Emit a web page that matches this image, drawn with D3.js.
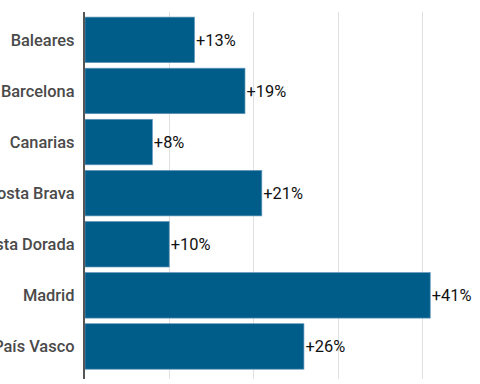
<!DOCTYPE html>
<html>
<head>
<meta charset="utf-8">
<script src="https://cdn.jsdelivr.net/npm/d3@7"></script>
<style>
html,body{margin:0;padding:0;background:#fff;overflow:hidden;}
svg{display:block;}
</style>
</head>
<body>
<svg id="chart" width="480" height="384"></svg>
<script>
const categories = ["Baleares","Barcelona","Canarias","Costa Brava","Costa Dorada","Madrid","País Vasco"];
const values = [13,19,8,21,10,41,26];
const gridTicks = [10,20,30,40];

const svg = d3.select("#chart");
const x = d3.scaleLinear().domain([0,46]).range([85, 85+46*8.42]);
const y = d3.scaleBand().domain(categories).range([12,374.3]).paddingInner(0.11).paddingOuter(0.1);

// gridlines
svg.append("g").selectAll("line").data(gridTicks).join("line")
  .attr("x1", d => Math.round(x(d))+0.5).attr("x2", d => Math.round(x(d))+0.5)
  .attr("y1", 12).attr("y2", 379)
  .attr("stroke", "#e0e0e0").attr("stroke-width", 1);

// bars
svg.append("g").selectAll("rect").data(categories).join("rect")
  .attr("x", x(0))
  .attr("y", d => y(d))
  .attr("width", (d,i) => x(values[i]) - x(0))
  .attr("height", y.bandwidth())
  .attr("fill", "#005d8a")
  .attr("stroke", "#5f95b9")
  .attr("stroke-width", 0.7);

// axis line
svg.append("line")
  .attr("x1", 84).attr("x2", 84).attr("y1", 12).attr("y2", 379)
  .attr("stroke", "#555").attr("stroke-width", 2);

// category labels
svg.append("g").selectAll("text").data(categories).join("text")
  .attr("x", 74.5)
  .attr("y", d => y(d) + y.bandwidth()/2)
  .attr("dy", "0.35em")
  .attr("text-anchor", "end")
  .attr("font-family", "Roboto, sans-serif")
  .attr("font-weight", 500)
  .attr("font-size", 16.4)
  .attr("fill", "#4a4a4a")
  .text(d => d);

// value labels
svg.append("g").selectAll("text").data(categories).join("text")
  .attr("x", (d,i) => x(values[i]) + 1.5)
  .attr("y", d => y(d) + y.bandwidth()/2)
  .attr("dy", "0.35em")
  .attr("font-family", "Roboto, sans-serif")
  .attr("font-size", 16.4)
  .attr("fill", "#111")
  .text((d,i) => "+" + values[i] + "%");
</script>
</body>
</html>
